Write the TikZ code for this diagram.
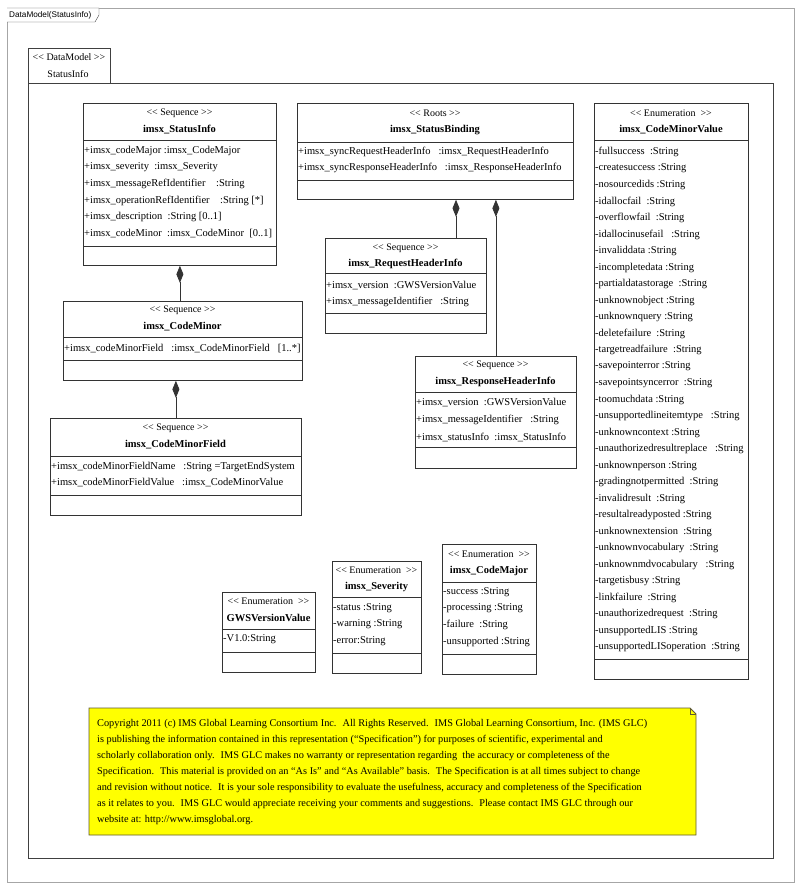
\documentclass[tikz,border=0pt]{standalone}
\usepackage{fontspec}
\setmainfont{Liberation Serif}
\newfontfamily\framefont{Liberation Sans}
\usetikzlibrary{arrows.meta}
\definecolor{noteyellow}{RGB}{255,255,0}
\definecolor{noteedge}{RGB}{95,90,50}

\begin{document}
\begin{tikzpicture}[x=1pt, y=-1pt, line join=miter,
    classbox/.style={draw=black!80, line width=0.8pt, inner sep=0, anchor=north west},
    divider/.style={draw=black!80, line width=0.8pt},
    stereo/.style={inner sep=0, font=\fontsize{10}{12}\selectfont},
    cname/.style={inner sep=0, font=\fontsize{10.5}{12}\selectfont\bfseries},
    attr/.style={inner sep=0, anchor=west, font=\fontsize{10.5}{12}\selectfont},
    composite/.style={draw=black!80, line width=0.8pt, {Diamond[length=17pt, width=7pt]}-}]

    \useasboundingbox (0,0) rectangle (800,890);
    \fill[white] (0,0) rectangle (800,890);

    % Diagram frame
    \draw[gray!70] (7,8) rectangle (794,882);
    \draw[black!70, fill=white] (7,8) -- (99,8) -- (99,15) -- (95,22) -- (7,22);
    \node[inner sep=0, anchor=west, font=\framefont\fontsize{8.2}{9}\selectfont] (frametitle) at (9,15) {DataModel(StatusInfo)};

    % Package
    \draw[black!75, line width=0.9pt] (28,48) rectangle (110,83);
    \draw[black!75, line width=0.9pt] (28,83) rectangle (773,858);
    \node[stereo] (pkgstereo) at (69,57) {<{}< DataModel >{}>};
    \node[stereo] (pkgname) at (68,74) {StatusInfo};

    % imsx_StatusInfo
    \node[classbox, minimum width=193, minimum height=162] (statusinfo) at (83,103) {};
    \draw[divider] (83,140) -- (276,140) (83,246) -- (276,246);
    \node[stereo] at (179.5,113) {<{}< Sequence >{}>};
    \node[cname] at (179.5,130) {imsx\_StatusInfo};
    \foreach \a [count=\i from 0] in {{+imsx\_codeMajor :imsx\_CodeMajor},
        {+imsx\_severity ~:imsx\_Severity},
        {+imsx\_messageRefIdentifier ~~~:String},
        {+imsx\_operationRefIdentifier ~~~:String [*]},
        {+imsx\_description ~:String [0..1]},
        {+imsx\_codeMinor ~:imsx\_CodeMinor ~[0..1]}}
        \node[attr] at (84,151+16.6*\i) {\a};

    % imsx_StatusBinding
    \node[classbox, minimum width=276, minimum height=96] (binding) at (297,103) {};
    \draw[divider] (297,142) -- (573,142) (297,180) -- (573,180);
    \node[stereo] at (435,113) {<{}< Roots >{}>};
    \node[cname] at (435,130) {imsx\_StatusBinding};
    \node[attr] at (298,152) {+imsx\_syncRequestHeaderInfo ~~:imsx\_RequestHeaderInfo};
    \node[attr] at (298,168) {+imsx\_syncResponseHeaderInfo ~~:imsx\_ResponseHeaderInfo};

    % imsx_RequestHeaderInfo
    \node[classbox, minimum width=161, minimum height=95] (reqhead) at (325,238) {};
    \draw[divider] (325,273) -- (486,273) (325,313) -- (486,313);
    \node[stereo] at (405.5,248) {<{}< Sequence >{}>};
    \node[cname] at (405.5,264) {imsx\_RequestHeaderInfo};
    \node[attr] at (326,286) {+imsx\_version ~:GWSVersionValue};
    \node[attr] at (326,302) {+imsx\_messageIdentifier ~~:String};

    % imsx_ResponseHeaderInfo
    \node[classbox, minimum width=161, minimum height=112] (resphead) at (415,356) {};
    \draw[divider] (415,392) -- (576,392) (415,447) -- (576,447);
    \node[stereo] at (495.5,365) {<{}< Sequence >{}>};
    \node[cname] at (495.5,382) {imsx\_ResponseHeaderInfo};
    \node[attr] at (416,403) {+imsx\_version ~:GWSVersionValue};
    \node[attr] at (416,420) {+imsx\_messageIdentifier ~~:String};
    \node[attr] at (416,437) {+imsx\_statusInfo ~:imsx\_StatusInfo};

    % imsx_CodeMinor
    \node[classbox, minimum width=239, minimum height=79] (codeminor) at (63,301) {};
    \draw[divider] (63,337) -- (302,337) (63,360) -- (302,360);
    \node[stereo] at (182.5,310) {<{}< Sequence >{}>};
    \node[cname] at (182.5,327) {imsx\_CodeMinor};
    \node[attr] at (64,349) {+imsx\_codeMinorField ~~:imsx\_CodeMinorField ~~[1..*]};

    % imsx_CodeMinorField
    \node[classbox, minimum width=251, minimum height=97] (codeminorfield) at (50,418) {};
    \draw[divider] (50,456) -- (301,456) (50,495) -- (301,495);
    \node[stereo] at (175.5,428) {<{}< Sequence >{}>};
    \node[cname] at (175.5,445) {imsx\_CodeMinorField};
    \node[attr] at (51,467) {+imsx\_codeMinorFieldName ~~:String =TargetEndSystem};
    \node[attr] at (51,483) {+imsx\_codeMinorFieldValue ~~:imsx\_CodeMinorValue};

    % imsx_CodeMinorValue
    \node[classbox, minimum width=154, minimum height=576] (codeminorvalue) at (594,103) {};
    \draw[divider] (594,140) -- (748,140) (594,659) -- (748,659);
    \node[stereo] at (671,113) {<{}< Enumeration ~>{}>};
    \node[cname] at (671,130) {imsx\_CodeMinorValue};
    \foreach \a [count=\i from 0] in {fullsuccess ~:String, createsuccess :String,
        nosourcedids :String, idallocfail ~:String, overflowfail ~:String,
        idallocinusefail ~~:String, invaliddata :String, incompletedata :String,
        partialdatastorage ~:String, unknownobject :String, unknownquery :String,
        deletefailure ~:String, targetreadfailure ~:String, savepointerror :String,
        savepointsyncerror ~:String, toomuchdata :String,
        unsupportedlineitemtype ~~:String, unknowncontext :String,
        unauthorizedresultreplace ~~:String, unknownperson :String,
        gradingnotpermitted ~:String, invalidresult ~:String,
        resultalreadyposted :String, unknownextension ~:String,
        unknownvocabulary ~:String, unknownmdvocabulary ~~:String,
        targetisbusy :String, linkfailure ~:String, unauthorizedrequest ~:String,
        unsupportedLIS :String, unsupportedLISoperation ~:String}
        \node[attr] at (595,152+16.5*\i) {-\a};

    % GWSVersionValue
    \node[classbox, minimum width=93, minimum height=80] (gwsversion) at (222,592) {};
    \draw[divider] (222,629) -- (315,629) (222,652) -- (315,652);
    \node[stereo] at (268.5,601) {<{}< Enumeration ~>{}>};
    \node[cname] at (268.5,618) {GWSVersionValue};
    \node[attr] at (223,639) {-V1.0:String};

    % imsx_Severity
    \node[classbox, minimum width=89, minimum height=112] (severity) at (332,561) {};
    \draw[divider] (332,597) -- (421,597) (332,653) -- (421,653);
    \node[stereo] at (376.5,570) {<{}< Enumeration ~>{}>};
    \node[cname] at (376.5,587) {imsx\_Severity};
    \foreach \a [count=\i from 0] in {status :String, warning :String, error:String}
        \node[attr] at (333,608+16.5*\i) {-\a};

    % imsx_CodeMajor
    \node[classbox, minimum width=94, minimum height=130] (codemajor) at (442,544) {};
    \draw[divider] (442,582) -- (536,582) (442,654) -- (536,654);
    \node[stereo] at (489,554) {<{}< Enumeration ~>{}>};
    \node[cname] at (489,571) {imsx\_CodeMajor};
    \foreach \a [count=\i from 0] in {success :String, processing :String,
        failure ~:String, unsupported :String}
        \node[attr] at (443,592+16.5*\i) {-\a};

    % Compositions
    \draw[composite] (statusinfo.south) -- (statusinfo.south |- codeminor.north);
    \draw[composite] (codeminor.south -| codeminorfield.north) -- (codeminorfield.north);
    \coordinate (reqjoin) at (456,238);
    \draw[composite] (binding.south -| reqjoin) -- (reqjoin);
    \draw[composite] (binding.south -| resphead.north) -- (resphead.north);

    % Copyright note
    \draw[noteedge, line width=0.9pt, fill=noteyellow] (89,708) -- (690,708) -- (696,714) -- (696,835) -- (89,835) -- cycle;
    \draw[noteedge, line width=0.7pt] (690,708) -- (690,714) -- (696,714);
    \node[anchor=north west, inner sep=0, align=left, font=\fontsize{10.3}{16}\selectfont] (note) at (97,719)
        {Copyright 2011 (c) IMS Global Learning Consortium Inc.~ All Rights Reserved.~ IMS Global Learning Consortium, Inc. (IMS GLC)\\
        is publishing the information contained in this representation (“Specification”) for purposes of scientific, experimental and\\
        scholarly collaboration only.~ IMS GLC makes no warranty or representation regarding~ the accuracy or completeness of the\\
        Specification.~ This material is provided on an “As Is” and “As Available” basis.~ The Specification is at all times subject to change\\
        and revision without notice.~ It is your sole responsibility to evaluate the usefulness, accuracy and completeness of the Specification\\
        as it relates to you.~ IMS GLC would appreciate receiving your comments and suggestions.~ Please contact IMS GLC through our\\
        website at: http://www.imsglobal.org.};

\end{tikzpicture}
\end{document}
